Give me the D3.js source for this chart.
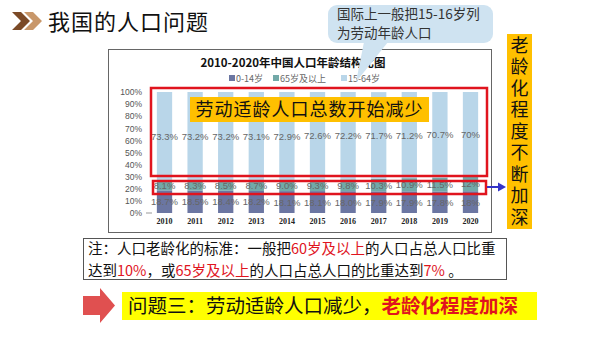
<!DOCTYPE html>
<html><head><meta charset="utf-8">
<script src="https://cdn.jsdelivr.net/npm/d3@7"></script>
<style>
html,body{margin:0;padding:0;background:#fff;}
svg{display:block;font-family:"Noto Sans CJK SC","Noto Sans",sans-serif;}
</style></head>
<body>
<script>
const years = ["2010","2011","2012","2013","2014","2015","2016","2017","2018","2019","2020"];
const age0to14 = [18.7,18.5,18.4,18.2,18.1,18.1,18.0,17.9,17.9,17.8,18];
const age65plus = [8.1,8.3,8.5,8.7,9.0,9.3,9.8,10.3,10.9,11.5,12];
const age15to64 = [73.3,73.2,73.2,73.1,72.9,72.6,72.2,71.7,71.2,70.7,70];
const label0to14 = ["18.7%","18.5%","18.4%","18.2%","18.1%","18.1%","18.0%","17.9%","17.9%","17.8%","18%"];
const label65plus = ["8.1%","8.3%","8.5%","8.7%","9.0%","9.3%","9.8%","10.3%","10.9%","11.5%","12%"];
const label15to64 = ["73.3%","73.2%","73.2%","73.1%","72.9%","72.6%","72.2%","71.7%","71.2%","70.7%","70%"];
const seriesNames = ["0-14岁","65岁及以上","15-64岁"];
const yTicks = [0,10,20,30,40,50,60,70,80,90,100];

const W=600,H=338;
const svg=d3.select("body").append("svg").attr("width",W).attr("height",H);
svg.append("rect").attr("width",W).attr("height",H).attr("fill","#fff");

// header chevrons
const chev=(x,c)=>svg.append("path").attr("d",`M${x},12 L${x+9},12 L${x+18},21 L${x+9},30 L${x},30 L${x+9},21 Z`).attr("fill",c);
chev(12,"#7b4a27");
chev(24,"#c8976a");
svg.append("text").attr("x",48).attr("y",30).attr("font-size",22).attr("fill","#111").attr("letter-spacing",1).text("我国的人口问题");

// chart frame
svg.append("rect").attr("x",108.5).attr("y",49.5).attr("width",383).attr("height",183).attr("fill","#fff").attr("stroke","#666").attr("stroke-width",1);

const colors=["#6b76a2","#72a9a8","#b9d6e9"];
const x=d3.scaleBand().domain(years).range([149.2,485.8]).paddingInner(0.5).paddingOuter(0.25);
const y=d3.scaleLinear().domain([0,100]).range([213,92]);

// y axis
const ya=svg.append("g").attr("transform","translate(148,0)")
  .call(d3.axisLeft(y).tickValues(yTicks).tickFormat(d=>d+"%").tickSize(0).tickPadding(6));
ya.select(".domain").remove();
ya.selectAll("text").attr("font-family","Liberation Sans,Arial").attr("font-size",8.5).attr("fill","#555");
svg.append("line").attr("x1",146).attr("x2",152).attr("y1",213).attr("y2",213).attr("stroke","#999");

// x axis
const xa=svg.append("g").attr("transform","translate(0,213)")
  .call(d3.axisBottom(x).tickSize(0).tickPadding(5));
xa.select(".domain").remove();
xa.selectAll("text").attr("font-family","Liberation Serif,serif").attr("font-weight","bold").attr("font-size",8).attr("fill","#222");

// stacked bars
const rows=years.map((yr,i)=>({yr,a:age0to14[i],b:age65plus[i],c:age15to64[i],i}));
const stack=d3.stack().keys(["a","b","c"])(rows);
stack.forEach((s,k)=>{
  svg.append("g").selectAll("rect").data(s).join("rect")
    .attr("x",d=>x(d.data.yr)).attr("width",x.bandwidth())
    .attr("y",d=>y(Math.min(100,d[1]))).attr("height",d=>y(d[0])-y(Math.min(100,d[1])))
    .attr("fill",colors[k]);
});
const labs=[label0to14,label65plus,label15to64];
stack.forEach((s,k)=>{
  svg.append("g").selectAll("text").data(s).join("text")
    .attr("x",d=>x(d.data.yr)+x.bandwidth()/2)
    .attr("y",d=>(y(d[0])+y(Math.min(100,d[1])))/2+3.5)
    .attr("text-anchor","middle").attr("font-family","Liberation Sans,Arial").attr("font-size",9.5)
    .attr("fill","#666").text((d,i)=>labs[k][i]);
});

// chart title & legend
svg.append("text").attr("x",293).attr("y",67).attr("text-anchor","middle").attr("font-size",11.5).attr("font-weight","bold").attr("fill","#111")
  .text("2010-2020年中国人口年龄结构比图");
const lg=[{n:seriesNames[0],c:colors[0],x:229},{n:seriesNames[1],c:colors[1],x:273},{n:seriesNames[2],c:colors[2],x:341}];
lg.forEach(l=>{
  svg.append("rect").attr("x",l.x).attr("y",75).attr("width",6).attr("height",6).attr("fill",l.c);
  svg.append("text").attr("x",l.x+7).attr("y",82).attr("font-size",9).attr("fill","#666").text(l.n);
});

// red boxes
svg.append("rect").attr("x",151).attr("y",88).attr("width",336).attr("height",88).attr("fill","none").attr("stroke","#e0141e").attr("stroke-width",2.5);
svg.append("rect").attr("x",153).attr("y",181).attr("width",333).attr("height",13).attr("fill","none").attr("stroke","#e0141e").attr("stroke-width",2.5);

// orange label in chart
svg.append("rect").attr("x",190).attr("y",97).attr("width",239).attr("height",25).attr("fill","#ffc000");
svg.append("text").attr("x",309.5).attr("y",116).attr("text-anchor","middle").attr("font-size",18).attr("fill","#111").attr("letter-spacing",1).text("劳动适龄人口总数开始减少");

// callout bubble
svg.append("path").attr("d","M364,42 L388,42 L356,82 Z").attr("fill","#cfe3f1");
svg.append("rect").attr("x",328).attr("y",5).attr("width",165).attr("height",38).attr("rx",9).attr("fill","#cfe3f1");
svg.append("text").attr("x",337).attr("y",18.5).attr("font-size",13.5).attr("fill","#333").text("国际上一般把15-16岁列");
svg.append("text").attr("x",337).attr("y",38).attr("font-size",13.5).attr("fill","#333").text("为劳动年龄人口");

// vertical box
svg.append("rect").attr("x",507).attr("y",34).attr("width",25).attr("height",195).attr("fill","#ffc000");
svg.append("text").attr("x",519.5).attr("y",36)
  .attr("writing-mode","vertical-rl").style("writing-mode","vertical-rl")
  .attr("font-size",18).attr("letter-spacing",3.5).attr("fill","#111").text("老龄化程度不断加深");

// blue arrow
svg.append("line").attr("x1",487).attr("x2",500).attr("y1",187).attr("y2",187).attr("stroke","#3434c8").attr("stroke-width",2);
svg.append("path").attr("d","M498,182.5 L506,187 L498,191.5 Z").attr("fill","#3434c8");

// note box
svg.append("rect").attr("x",83.5).attr("y",238.5).attr("width",423).attr("height",41).attr("fill","#fff").attr("stroke","#555").attr("stroke-width",1);
const n1=svg.append("text").attr("x",88).attr("y",254).attr("font-size",14.5).attr("fill","#111");
n1.append("tspan").text("注：人口老龄化的标准：一般把");
n1.append("tspan").attr("fill","#e0141e").text("60岁及以上");
n1.append("tspan").text("的人口占总人口比重");
const n2=svg.append("text").attr("x",88).attr("y",276).attr("font-size",14.5).attr("fill","#111");
n2.append("tspan").text("达到");
n2.append("tspan").attr("fill","#e0141e").text("10%");
n2.append("tspan").text("，或");
n2.append("tspan").attr("fill","#e0141e").text("65岁及以上");
n2.append("tspan").text("的人口占总人口的比重达到");
n2.append("tspan").attr("fill","#e0141e").text("7%");
n2.append("tspan").text(" 。");

// bottom arrow + yellow box
svg.append("path").attr("d","M83,296 L100,296 L100,288 L115,305.5 L100,323 L100,315 L83,315 Z").attr("fill","#e05050");
svg.append("rect").attr("x",122).attr("y",292).attr("width",415).attr("height",28).attr("fill","#ffff00");
const bt=svg.append("text").attr("x",128).attr("y",313).attr("font-size",19.5).attr("fill","#111");
bt.append("tspan").text("问题三：劳动适龄人口减少，");
bt.append("tspan").attr("fill","#e0141e").attr("font-weight","bold").text("老龄化程度加深");
</script>
</body></html>
